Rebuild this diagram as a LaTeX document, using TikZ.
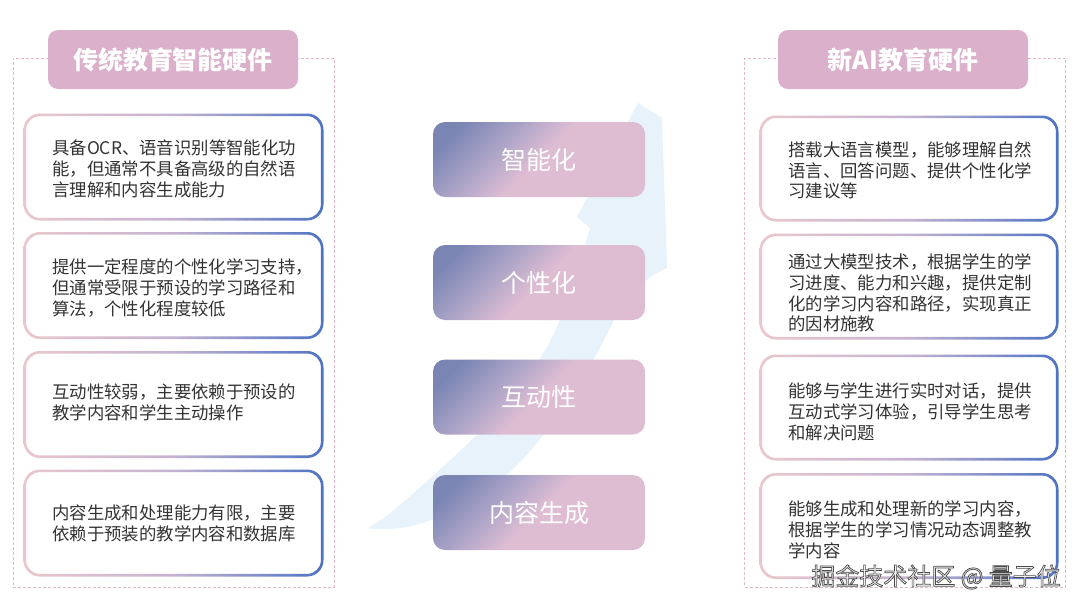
\documentclass[tikz,border=0pt]{standalone}
\usepackage{fontspec}
\setmainfont{Noto Sans CJK SC}
\usetikzlibrary{calc}
\definecolor{arrowblue}{HTML}{E7F2FB}
\definecolor{panelpink}{HTML}{E3B8CB}
\definecolor{headfill}{HTML}{DAB0CA}
\definecolor{bpink}{HTML}{EAC7CD}
\definecolor{bmid}{HTML}{C4B3D0}
\definecolor{bblue}{HTML}{4E72C4}
\definecolor{txt}{HTML}{333333}
\definecolor{mblue}{HTML}{7A85B4}
\definecolor{mmid}{HTML}{ACA4C7}
\definecolor{mpink}{HTML}{DEBDD3}
\definecolor{wmfill}{HTML}{F2F2F2}
\pgfdeclarehorizontalshading{midgrad}{100bp}{color(0bp)=(mblue); color(22bp)=(mblue); color(37bp)=(mmid); color(50bp)=(mpink); color(100bp)=(mpink)}
\newcommand\cardring[1]{%
  \shade[left color=bpink, right color=bblue, middle color=bmid, even odd rule, rounded corners=16.3pt]
    ($(#1.north west)+(-1.3pt,1.3pt)$) rectangle ($(#1.south east)+(1.3pt,-1.3pt)$)
    [rounded corners=13.7pt]
    ($(#1.north west)+(1.3pt,-1.3pt)$) rectangle ($(#1.south east)+(-1.3pt,1.3pt)$);}
\newcommand\wmon{\special{pdf:literal direct 2 Tr 0.7 w 0.3 0.3 0.3 RG}}
\newcommand\wmoff{\special{pdf:literal direct 0 Tr}}
\tikzset{
  panelbox/.style={draw=panelpink, line width=0.8pt, dash pattern=on 3pt off 2pt, minimum width=321pt, minimum height=529pt, inner sep=0pt},
  headbox/.style={fill=headfill, rounded corners=10pt, minimum width=250pt, minimum height=59pt, inner sep=0pt, text=white, font=\bfseries\fontsize{25}{30}\selectfont},
  cardL/.style={fill=white, minimum width=297pt, minimum height=104pt, inner sep=0pt},
  cardR/.style={fill=white, minimum width=296pt, minimum height=103pt, inner sep=0pt},
  cardtxt/.style={anchor=west, align=left, inner sep=0pt, text=txt, font=\fontsize{17.4}{20.8}\selectfont},
  midbox/.style={shade, shading=midgrad, shading angle=-45, rounded corners=12pt, minimum width=212pt, minimum height=75pt, inner sep=0pt, text=white, font=\fontsize{25}{30}\selectfont},
}
\begin{document}
\begin{tikzpicture}[x=1pt,y=-1pt]
\useasboundingbox[fill=white] (0,0) rectangle (1080,608);
% background swoosh arrow
\fill[arrowblue] (368,528) .. controls (420,536) and (480,500) .. (507,475)
  .. controls (550,435) and (590,370) .. (613,322)
  .. controls (630,290) and (650,275) .. (667,268)
  -- (662,118) -- (638,103) -- (577,217) -- (590,228)
  .. controls (575,280) and (560,330) .. (540,358)
  .. controls (510,410) and (440,470) .. (400,505)
  .. controls (385,518) and (375,524) .. (368,528) -- cycle;
% panels
\node[panelbox] (pl) at (173.5,322.5) {};
\node[panelbox] (pr) at (905,322.5) {};
% headers
\node[headbox] (hl) at (173,59.5) {传统教育智能硬件};
\node[headbox] (hr) at (903,59.5) {新AI教育硬件};
% left cards
\node[cardL] (l1) at (173.5,167) {};
\node[cardL] (l2) at (173.5,285.5) {};
\node[cardL] (l3) at (173.5,404.5) {};
\node[cardL] (l4) at (173.5,523) {};
\cardring{l1}\cardring{l2}\cardring{l3}\cardring{l4}
\node[cardtxt] (l1t) at (52,169) {具备OCR、语音识别等智能化功\\能，但通常不具备高级的自然语\\言理解和内容生成能力};
\node[cardtxt] (l2t) at (52,288) {提供一定程度的个性化学习支持，\\但通常受限于预设的学习路径和\\算法，个性化程度较低};
\node[cardtxt] (l3t) at (52,402.5) {互动性较弱，主要依赖于预设的\\教学内容和学生主动操作};
\node[cardtxt] (l4t) at (52,523) {内容生成和处理能力有限，主要\\依赖于预装的教学内容和数据库};
% right cards
\node[cardR] (r1) at (909,168.5) {};
\node[cardR] (r2) at (909,286.5) {};
\node[cardR] (r3) at (909,407.5) {};
\node[cardR] (r4) at (909,526) {};
\cardring{r1}\cardring{r2}\cardring{r3}\cardring{r4}
\node[cardtxt] (r1t) at (788,170.5) {搭载大语言模型，能够理解自然\\语言、回答问题、提供个性化学\\习建议等};
\node[cardtxt] (r2t) at (788,293) {通过大模型技术，根据学生的学\\习进度、能力和兴趣，提供定制\\化的学习内容和路径，实现真正\\的因材施教};
\node[cardtxt] (r3t) at (788,412) {能够与学生进行实时对话，提供\\互动式学习体验，引导学生思考\\和解决问题};
\node[cardtxt] (r4t) at (788,530) {能够生成和处理新的学习内容，\\根据学生的学习情况动态调整教\\学内容};
% middle
\node[midbox] (m1) at (539,159.5) {智能化};
\node[midbox] (m2) at (539,282.5) {个性化};
\node[midbox] (m3) at (539,397) {互动性};
\node[midbox] (m4) at (539,512.5) {内容生成};
% watermark
\node[anchor=east, inner sep=0pt, text=wmfill, font=\fontsize{24}{28}\selectfont] (wm) at (1061,577) {\wmon 掘金技术社区 @ 量子位\wmoff};
\end{tikzpicture}
\end{document}
